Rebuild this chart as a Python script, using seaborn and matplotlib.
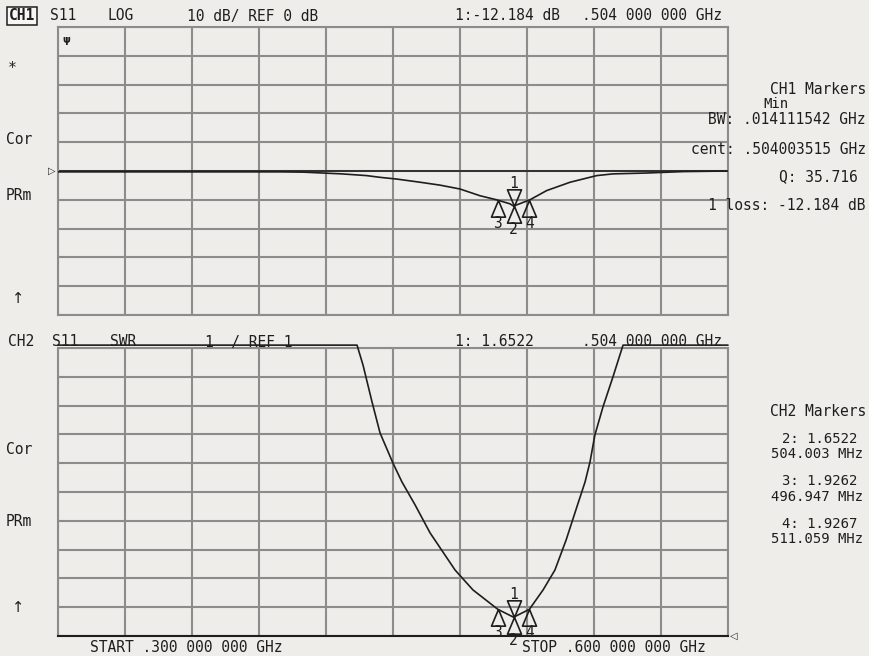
import seaborn as sns
import pandas as pd
import matplotlib.pyplot as plt
import matplotlib.transforms as mtransforms
from matplotlib.path import Path

# CH1: S11 log magnitude (dB)
ch1_freq = [0.300, 0.350, 0.400, 0.410, 0.427, 0.4382, 0.4442, 0.4517, 0.4621, 0.471,
            0.480, 0.489, 0.4964, 0.5024, 0.504, 0.5113, 0.5188, 0.5293, 0.5412,
            0.5485, 0.5636, 0.580, 0.600]
ch1_db = [-0.3, -0.3, -0.3, -0.4, -1.0, -1.6, -2.2, -2.8, -3.9, -4.9,
          -6.25, -8.6, -10.0, -11.4, -12.184, -10.0, -6.8, -3.9, -1.6,
          -1.0, -0.7, -0.2, 0.0]

# CH2: S11 SWR (values above 11 are pinned to the top of the screen)
ch2_freq = [0.300, 0.4339, 0.4366, 0.4406, 0.4442, 0.4500, 0.4540, 0.4599, 0.4666,
            0.4778, 0.4858, 0.496947, 0.504, 0.511059, 0.5172, 0.5225, 0.5275,
            0.5319, 0.5360, 0.5382, 0.5404, 0.5440, 0.5485, 0.5530, 0.600]
ch2_swr = [11.1, 11.1, 10.4, 9.13, 8.05, 7.0, 6.35, 5.55, 4.58,
           3.29, 2.6, 1.9262, 1.6522, 1.9267, 2.6, 3.29, 4.33,
           5.38, 6.35, 7.04, 7.98, 8.95, 10.0, 11.1, 11.1]

# markers 1..4
mk_labels = ["1", "2", "3", "4"]
mk_freq = [0.504, 0.504, 0.496947, 0.511059]
mk_db = [-12.184, -12.184, -10.0, -10.0]
mk_swr = [1.6522, 1.6522, 1.9262, 1.9267]
mk_down = [True, False, False, False]

BG = "#efedea"
GRID = "#8c8c8c"
INK = "#1e1e1e"

sns.set_style("white", rc={"axes.facecolor": BG, "figure.facecolor": BG})
plt.rcParams['font.family'] = ['DejaVu Sans Mono', 'DejaVu Sans']

W, H = 870, 656
fig = plt.figure(figsize=(8.7, 6.56), dpi=100)


def px(x, y):
    return x / W, 1 - y / H


# marker shapes with the tip at the data point
tri_up = Path([(0, 0), (-0.42, -1), (0.42, -1), (0, 0)])
tri_dn = Path([(0, 0), (-0.42, 1), (0.42, 1), (0, 0)])


def setup(ax, ylo, yhi):
    ax.set_xlim(0.3, 0.6)
    ax.set_ylim(ylo, yhi)
    ax.set_xticks([0.3 + 0.03 * i for i in range(11)])
    ax.set_yticks([ylo + (yhi - ylo) / 10 * i for i in range(11)])
    ax.grid(True, color=GRID, lw=1.5)
    ax.tick_params(length=0, labelbottom=False, labelleft=False)
    ax.set_xlabel("")
    ax.set_ylabel("")
    for s in ax.spines.values():
        s.set_color(GRID)
        s.set_linewidth(1.5)


def draw_markers(ax, yvals):
    for lab, f, v, down in zip(mk_labels, mk_freq, yvals, mk_down):
        ax.plot([f], [v], marker=tri_dn if down else tri_up, ms=24, mfc="none",
                mec=INK, mew=1.2, ls="none", clip_on=False)
        ax.annotate(lab, (f, v), xytext=(0, 16 if down else -17), textcoords="offset points",
                    ha="center", va="center", fontsize=10.5, color=INK)


# ---- CH1 ----
ax1 = fig.add_axes([58 / W, 1 - 315 / H, 670 / W, 288 / H])
setup(ax1, -50, 50)
ax1.axhline(0, color="#2a2a2a", lw=1.3, zorder=2)
sns.lineplot(x=ch1_freq, y=ch1_db, ax=ax1, color=INK, lw=1.2, zorder=3)
draw_markers(ax1, mk_db)
tr1 = mtransforms.blended_transform_factory(ax1.transAxes, ax1.transData)
ax1.text(-0.003, 0, "▷", transform=tr1, ha="right", va="center", fontsize=7,
         color=INK, family="DejaVu Sans")
ax1.text(0.012, 0.955, "ψ", transform=ax1.transAxes, ha="center", va="center",
         fontsize=7, color=INK, fontweight="bold", family="DejaVu Sans")

# ---- CH2 ----
ax2 = fig.add_axes([58 / W, 1 - 636 / H, 670 / W, 288 / H])
setup(ax2, 1, 11)
ax2.spines["bottom"].set_color(INK)
sns.lineplot(x=ch2_freq, y=ch2_swr, ax=ax2, color=INK, lw=1.2, zorder=3)
for line in ax2.get_lines():
    line.set_clip_on(False)
draw_markers(ax2, mk_swr)
tr2 = mtransforms.blended_transform_factory(ax2.transAxes, ax2.transData)
ax2.text(1.003, 1, "◁", transform=tr2, ha="left", va="center", fontsize=7,
         color=INK, family="DejaVu Sans")

# ---- screen annotations ----
FS = 10.5


def t(x, y, s, ha="left", **kw):
    fig.text(*px(x, y), s, ha=ha, va="center", fontsize=kw.pop("fs", FS), color=INK, **kw)


t(9, 16, "CH1", fontweight="bold",
  bbox=dict(boxstyle="square,pad=0.12", fc="#f7f6f4", ec=INK, lw=1.1))
t(50, 16, "S11")
t(108, 16, "LOG")
t(187, 16, "10 dB/ REF 0 dB")
t(455, 16, "1:-12.184 dB")
t(582, 16, ".504 000 000 GHz")

t(8, 68, "*")
t(6, 140, "Cor")
t(6, 196, "PRm")
t(18, 298, "↑", ha="center", family="DejaVu Sans")

t(866, 90, "CH1 Markers", ha="right")
t(763, 104, "Min", fs=10)
t(866, 120, "BW: .014111542 GHz", ha="right")
t(866, 149, "cent: .504003515 GHz", ha="right")
t(858, 177, "Q: 35.716", ha="right")
t(866, 205, "1 loss: -12.184 dB", ha="right")

t(8, 342, "CH2")
t(52, 342, "S11")
t(110, 342, "SWR")
t(205, 342, "1  / REF 1")
t(455, 342, "1: 1.6522")
t(582, 342, ".504 000 000 GHz")

t(6, 449, "Cor")
t(6, 521, "PRm")
t(18, 608, "↑", ha="center", family="DejaVu Sans")

t(866, 412, "CH2 Markers", ha="right")
t(820, 439, "2: 1.6522", ha="center", fs=10)
t(817, 454, "504.003 MHz", ha="center", fs=10)
t(820, 481, "3: 1.9262", ha="center", fs=10)
t(817, 497, "496.947 MHz", ha="center", fs=10)
t(820, 524, "4: 1.9267", ha="center", fs=10)
t(817, 539, "511.059 MHz", ha="center", fs=10)

t(90, 647, "START .300 000 000 GHz")
t(522, 647, "STOP .600 000 000 GHz")

fig.savefig("out.png", dpi=100, facecolor=BG)
